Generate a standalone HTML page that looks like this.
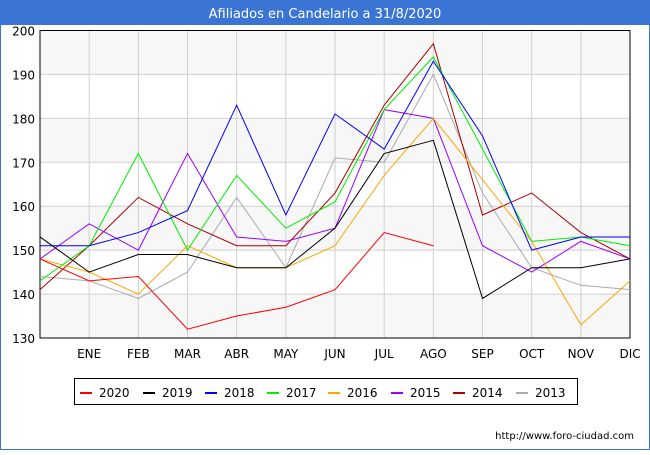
<!DOCTYPE html>
<html><head><meta charset="utf-8"><style>
body{margin:0;width:650px;height:450px;overflow:hidden;background:#fff;font-family:"Liberation Sans","DejaVu Sans",sans-serif}
</style></head><body>
<svg width="650" height="450" xmlns="http://www.w3.org/2000/svg" font-family="DejaVu Sans, Liberation Sans, sans-serif">
<rect x="0.5" y="0.5" width="649" height="449" fill="#fff" stroke="#3a75d6"/>
<rect x="0" y="0" width="650" height="25" fill="#3a75d6"/>
<text x="325" y="18" fill="#fff" font-size="13" text-anchor="middle">Afiliados en Candelario a 31/8/2020</text>
<g id="bands"></g>
<g id="grid" stroke="#d0d0d0" stroke-width="1"></g>
<rect x="40" y="30.5" width="590" height="307.5" fill="none" stroke="#000"/>
<g id="labels" font-size="12" fill="#000"></g>
<g id="series" fill="none" stroke-width="1"></g>
<rect x="74.5" y="378.5" width="503" height="26" fill="#fff" stroke="#000"/>
<g id="legend" font-size="12"></g>
<text x="634" y="439" font-size="10" text-anchor="end">http://www.foro-ciudad.com</text>
</svg>
<script>
var ns="http://www.w3.org/2000/svg";
function el(p,t,a,txt){var e=document.createElementNS(ns,t);for(var k in a)e.setAttribute(k,a[k]);if(txt!=null)e.textContent=txt;document.getElementById(p).appendChild(e);}
function Y(v){return 338-(v-130)*307.5/70;}
function X(i){return 40+i*49.17;}
for(var v=200;v>130;v-=20){el("bands","rect",{x:40,y:Y(v),width:590,height:Y(v-10)-Y(v),fill:"#f7f7f7"});}
for(var v=140;v<200;v+=10)el("grid","line",{x1:40,x2:630,y1:Y(v),y2:Y(v)});
for(var i=1;i<12;i++)el("grid","line",{x1:X(i),x2:X(i),y1:30.5,y2:338});
for(var v=130;v<=200;v+=10)el("labels","text",{x:35,y:Y(v)+5,"text-anchor":"end"},v);
var m=["ENE","FEB","MAR","ABR","MAY","JUN","JUL","AGO","SEP","OCT","NOV","DIC"];
for(var i=0;i<12;i++)el("labels","text",{x:X(i+1),y:358,"text-anchor":"middle"},m[i]);
var S=[
["#aaaaaa",[144,143,139,145,162,146,171,170,190,163,146,142,141],"2013"],
["#aa0000",[141,151,162,156,151,151,163,183,197,158,163,154,148],"2014"],
["#9900ff",[148,156,150,172,153,152,155,182,180,151,145,152,148],"2015"],
["#ffa500",[148,145,140,151,146,146,151,167,180,166,152,133,143],"2016"],
["#00ee00",[143,151,172,150,167,155,161,182,194,173,152,153,151],"2017"],
["#0000ff",[151,151,154,159,183,158,181,173,193,176,150,153,153],"2018"],
["#000000",[153,145,149,149,146,146,155,172,175,139,146,146,148],"2019"],
["#ff0000",[148,143,144,132,135,137,141,154,151],"2020"]];
S.forEach(function(s){el("series","polyline",{stroke:s[0],points:s[1].map(function(v,i){return X(i)+","+Y(v)}).join(" ")});});
var lx=[80,143,205,267,328,391,453,516];
S.slice().reverse().forEach(function(s,i){el("legend","line",{x1:lx[i],x2:lx[i]+12,y1:393,y2:393,stroke:s[0],"stroke-width":2});el("legend","text",{x:lx[i]+19,y:397},s[2]);});
</script>
</body></html>
